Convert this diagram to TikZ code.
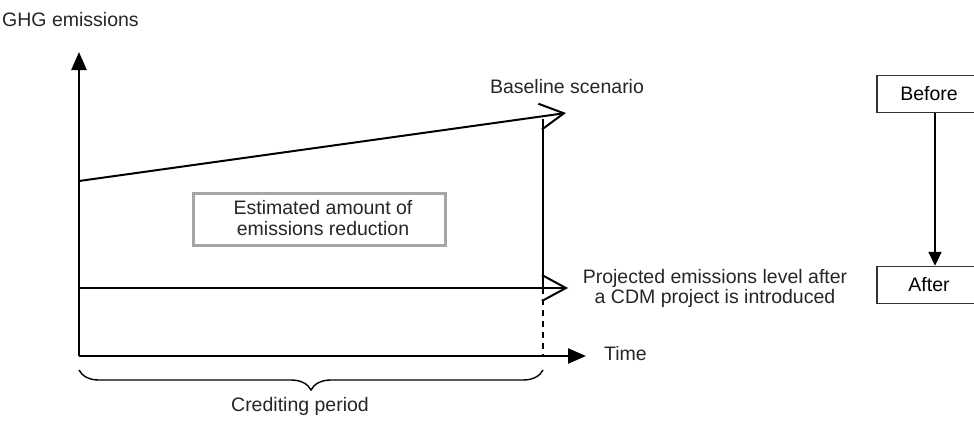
\documentclass[tikz,border=0pt]{standalone}
\usepackage{fontspec}
\setmainfont{Liberation Sans}
\usetikzlibrary{arrows.meta,decorations.pathreplacing}
\begin{document}
\begin{tikzpicture}[x=1pt,y=-1pt,
  lbl/.style={inner sep=0pt,font=\fontsize{19.5}{23}\selectfont,text=black!85},
  axis/.style={line width=2.4pt,-{Triangle[length=18pt,width=15pt]}},
  trend/.style={line width=2pt,-{Straight Barb[length=24pt,width=26pt,line width=2pt]}},
  statebox/.style={draw=black!80,line width=1.4pt,minimum width=104pt,minimum height=37pt,inner sep=0pt,font=\fontsize{19.5}{23}\selectfont},
  graybox/.style={draw=black!35,line width=3pt,minimum width=252pt,minimum height=52pt,inner sep=0pt}]
\useasboundingbox (0,0) rectangle (974,423);
\clip (0,0) rectangle (974,423);
\fill[white] (0,0) rectangle (974,423);
% axes
\coordinate (O) at (79,356);
\coordinate (ytip) at (79,52);
\coordinate (xtip) at (586,356);
\draw[axis] (O) -- (ytip);
\draw[axis] (O) -- (xtip);
\node[lbl,anchor=west] (ghg) at (2,20) {GHG emissions};
\node[lbl,anchor=west] (time) at (604,354) {Time};
% baseline
\coordinate (b0) at (79,181);
\coordinate (b1) at (566,113);
\draw[trend] (b0) -- (b1);
\node[lbl] (base) at (567,87) {Baseline scenario};
% projected
\coordinate (p0) at (79,288);
\coordinate (p1) at (568,288);
\draw[trend] (p0) -- (p1);
\node[lbl,align=center,font=\fontsize{19.5}{20}\selectfont] (proj) at (715,288) {Projected emissions level after\\a CDM project is introduced};
% vertical at end of crediting period
\coordinate (v0) at (543,119);
\coordinate (v1) at (543,288);
\coordinate (v2) at (543,356);
\draw[line width=1.6pt] (v0) -- (v1);
\draw[line width=1.3pt,dash pattern=on 6pt off 5pt] (v1) -- (v2);
% estimated box
\node[graybox] (est) at (319,219) {};
\node[lbl,align=center,font=\fontsize{19.5}{21}\selectfont] (estt) at (323,218) {Estimated amount of\\emissions reduction};
% brace
\coordinate (c0) at (79,370);
\coordinate (c1) at (543,370);
\draw[line width=1.4pt,decorate,decoration={brace,mirror,amplitude=20pt,raise=0pt}] (c0) -- (c1);
\node[lbl] (cred) at (300,406) {Crediting period};
% before / after
\node[statebox] (before) at (929,94) {Before};
\node[statebox] (after) at (929,285) {After};
\draw[line width=1.8pt,-{Triangle[length=14pt,width=13pt]}] ([xshift=6pt]before.south) -- ([xshift=6pt]after.north);
\end{tikzpicture}
\end{document}
